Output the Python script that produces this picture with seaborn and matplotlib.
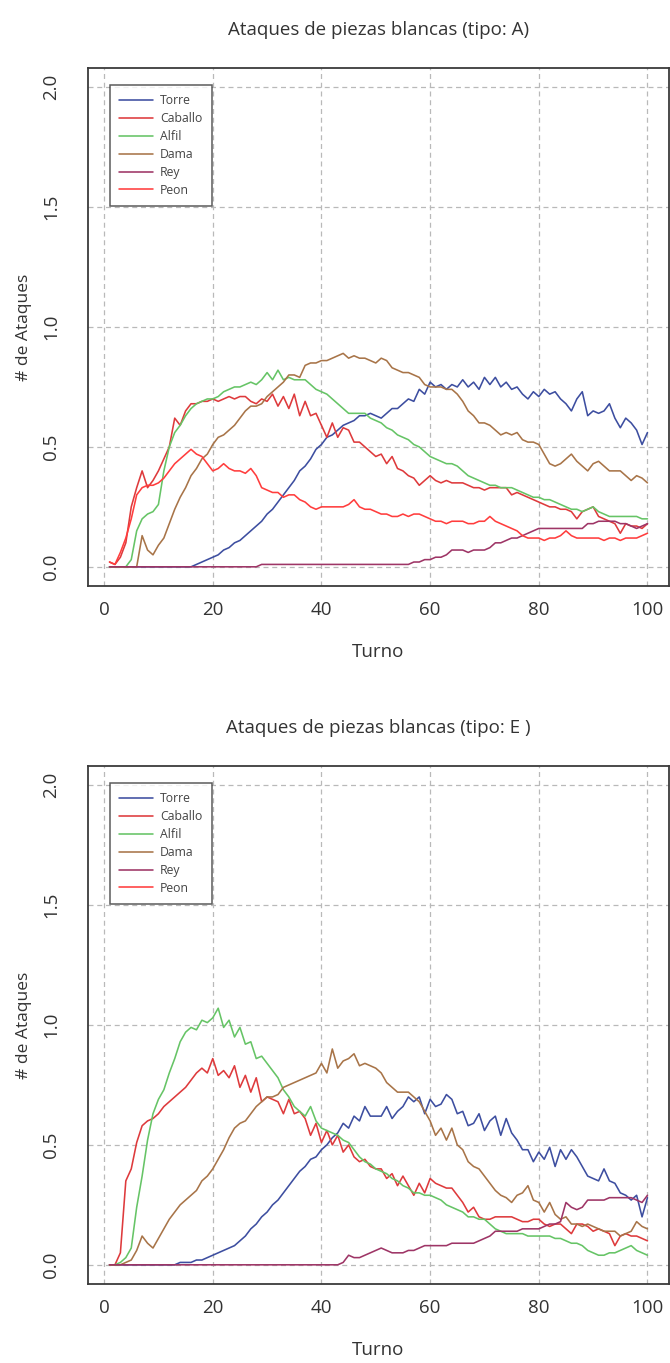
import numpy as np
import pandas as pd
import matplotlib
matplotlib.use("Agg")
import matplotlib.pyplot as plt
from matplotlib.lines import Line2D
import seaborn as sns

turnos = list(range(1, 101))
piezas = ["Torre", "Caballo", "Alfil", "Dama", "Rey", "Peon"]
colores = ["#3d4ea0", "#de3a3c", "#66c466", "#a87448", "#9e3566", "#ff3d3d"]

# tipo A
torre_a = [0, 0, 0, 0, 0, 0, 0, 0, 0, 0,
           0, 0, 0, 0, 0, 0, 0.01, 0.02, 0.03, 0.04,
           0.05, 0.07, 0.08, 0.10, 0.11, 0.13, 0.15, 0.17, 0.19, 0.22,
           0.24, 0.27, 0.30, 0.33, 0.36, 0.40, 0.42, 0.45, 0.49, 0.51,
           0.54, 0.55, 0.57, 0.59, 0.60, 0.61, 0.63, 0.63, 0.64, 0.63,
           0.62, 0.64, 0.66, 0.66, 0.68, 0.70, 0.69, 0.74, 0.72, 0.77,
           0.75, 0.76, 0.74, 0.76, 0.75, 0.78, 0.75, 0.77, 0.74, 0.79,
           0.76, 0.79, 0.75, 0.77, 0.74, 0.75, 0.72, 0.70, 0.73, 0.71,
           0.74, 0.72, 0.73, 0.70, 0.68, 0.65, 0.70, 0.73, 0.63, 0.65,
           0.64, 0.65, 0.68, 0.62, 0.58, 0.62, 0.60, 0.57, 0.51, 0.56]
caballo_a = [0.02, 0.01, 0.04, 0.10, 0.25, 0.33, 0.40, 0.33, 0.36, 0.40,
             0.45, 0.50, 0.62, 0.59, 0.65, 0.68, 0.68, 0.69, 0.69, 0.70,
             0.69, 0.70, 0.71, 0.70, 0.71, 0.71, 0.69, 0.68, 0.70, 0.69,
             0.72, 0.67, 0.71, 0.66, 0.72, 0.63, 0.69, 0.63, 0.64, 0.59,
             0.54, 0.60, 0.54, 0.58, 0.57, 0.52, 0.52, 0.50, 0.48, 0.46,
             0.47, 0.43, 0.46, 0.41, 0.40, 0.38, 0.37, 0.34, 0.36, 0.38,
             0.36, 0.35, 0.36, 0.35, 0.35, 0.35, 0.34, 0.33, 0.33, 0.32,
             0.33, 0.33, 0.33, 0.33, 0.30, 0.31, 0.30, 0.29, 0.28, 0.27,
             0.26, 0.25, 0.25, 0.24, 0.24, 0.23, 0.20, 0.23, 0.24, 0.25,
             0.21, 0.20, 0.19, 0.18, 0.14, 0.18, 0.17, 0.17, 0.16, 0.18]
alfil_a = [0, 0, 0, 0, 0.03, 0.15, 0.20, 0.22, 0.23, 0.26,
           0.40, 0.50, 0.56, 0.59, 0.63, 0.66, 0.68, 0.69, 0.70, 0.70,
           0.71, 0.73, 0.74, 0.75, 0.75, 0.76, 0.77, 0.76, 0.78, 0.81,
           0.78, 0.82, 0.78, 0.79, 0.78, 0.78, 0.78, 0.76, 0.74, 0.73,
           0.72, 0.70, 0.68, 0.66, 0.64, 0.64, 0.64, 0.64, 0.62, 0.61,
           0.60, 0.58, 0.57, 0.55, 0.54, 0.53, 0.51, 0.50, 0.48, 0.46,
           0.45, 0.44, 0.43, 0.43, 0.42, 0.40, 0.38, 0.37, 0.36, 0.35,
           0.34, 0.34, 0.33, 0.33, 0.33, 0.32, 0.31, 0.30, 0.29, 0.29,
           0.28, 0.28, 0.27, 0.26, 0.25, 0.24, 0.24, 0.23, 0.24, 0.25,
           0.23, 0.22, 0.21, 0.21, 0.21, 0.21, 0.21, 0.21, 0.20, 0.20]
dama_a = [0, 0, 0, 0, 0, 0, 0.13, 0.07, 0.05, 0.09,
          0.12, 0.18, 0.24, 0.29, 0.33, 0.38, 0.41, 0.45, 0.47, 0.51,
          0.54, 0.55, 0.57, 0.59, 0.62, 0.65, 0.67, 0.67, 0.68, 0.71,
          0.73, 0.75, 0.77, 0.80, 0.80, 0.79, 0.84, 0.85, 0.85, 0.86,
          0.86, 0.87, 0.88, 0.89, 0.87, 0.88, 0.87, 0.87, 0.86, 0.85,
          0.87, 0.86, 0.83, 0.82, 0.81, 0.81, 0.80, 0.79, 0.76, 0.75,
          0.75, 0.75, 0.74, 0.74, 0.72, 0.69, 0.65, 0.63, 0.60, 0.60,
          0.59, 0.57, 0.55, 0.56, 0.55, 0.56, 0.53, 0.52, 0.52, 0.51,
          0.47, 0.43, 0.42, 0.43, 0.45, 0.47, 0.44, 0.42, 0.40, 0.43,
          0.44, 0.42, 0.40, 0.40, 0.40, 0.38, 0.36, 0.38, 0.37, 0.35]
rey_a = [0, 0, 0, 0, 0, 0, 0, 0, 0, 0,
         0, 0, 0, 0, 0, 0, 0, 0, 0, 0,
         0, 0, 0, 0, 0, 0, 0, 0, 0.01, 0.01,
         0.01, 0.01, 0.01, 0.01, 0.01, 0.01, 0.01, 0.01, 0.01, 0.01,
         0.01, 0.01, 0.01, 0.01, 0.01, 0.01, 0.01, 0.01, 0.01, 0.01,
         0.01, 0.01, 0.01, 0.01, 0.01, 0.01, 0.02, 0.02, 0.03, 0.03,
         0.04, 0.04, 0.05, 0.07, 0.07, 0.07, 0.06, 0.07, 0.07, 0.07,
         0.08, 0.10, 0.10, 0.11, 0.12, 0.12, 0.13, 0.14, 0.15, 0.16,
         0.16, 0.16, 0.16, 0.16, 0.16, 0.16, 0.16, 0.16, 0.18, 0.18,
         0.19, 0.19, 0.19, 0.19, 0.18, 0.18, 0.17, 0.16, 0.17, 0.18]
peon_a = [0.02, 0.01, 0.06, 0.12, 0.20, 0.30, 0.33, 0.34, 0.34, 0.35,
          0.37, 0.40, 0.43, 0.45, 0.47, 0.49, 0.47, 0.46, 0.43, 0.40,
          0.41, 0.43, 0.41, 0.40, 0.40, 0.39, 0.41, 0.38, 0.33, 0.32,
          0.31, 0.31, 0.29, 0.30, 0.30, 0.28, 0.27, 0.25, 0.24, 0.25,
          0.25, 0.25, 0.25, 0.25, 0.26, 0.28, 0.25, 0.24, 0.24, 0.23,
          0.22, 0.22, 0.21, 0.21, 0.22, 0.21, 0.22, 0.22, 0.21, 0.20,
          0.19, 0.19, 0.18, 0.19, 0.19, 0.19, 0.18, 0.18, 0.19, 0.19,
          0.21, 0.19, 0.18, 0.17, 0.16, 0.15, 0.13, 0.12, 0.12, 0.12,
          0.11, 0.12, 0.12, 0.13, 0.15, 0.13, 0.12, 0.12, 0.12, 0.12,
          0.12, 0.11, 0.12, 0.12, 0.11, 0.12, 0.12, 0.12, 0.13, 0.14]

# tipo E
torre_e = [0, 0, 0, 0, 0, 0, 0, 0, 0, 0,
           0, 0, 0, 0.01, 0.01, 0.01, 0.02, 0.02, 0.03, 0.04,
           0.05, 0.06, 0.07, 0.08, 0.10, 0.12, 0.15, 0.17, 0.20, 0.22,
           0.25, 0.27, 0.30, 0.33, 0.36, 0.39, 0.41, 0.44, 0.45, 0.48,
           0.50, 0.53, 0.55, 0.59, 0.57, 0.62, 0.60, 0.66, 0.62, 0.62,
           0.62, 0.66, 0.61, 0.64, 0.66, 0.70, 0.68, 0.70, 0.63, 0.69,
           0.66, 0.67, 0.71, 0.69, 0.63, 0.64, 0.58, 0.59, 0.63, 0.56,
           0.60, 0.62, 0.54, 0.61, 0.55, 0.52, 0.48, 0.48, 0.43, 0.47,
           0.44, 0.49, 0.41, 0.48, 0.44, 0.48, 0.45, 0.41, 0.37, 0.36,
           0.35, 0.40, 0.35, 0.34, 0.30, 0.29, 0.27, 0.29, 0.20, 0.28]
caballo_e = [0, 0, 0.05, 0.35, 0.40, 0.51, 0.58, 0.60, 0.61, 0.63,
             0.66, 0.68, 0.70, 0.72, 0.74, 0.77, 0.80, 0.82, 0.80, 0.86,
             0.79, 0.81, 0.78, 0.83, 0.74, 0.79, 0.72, 0.78, 0.68, 0.70,
             0.69, 0.68, 0.63, 0.69, 0.63, 0.64, 0.61, 0.54, 0.59, 0.51,
             0.56, 0.50, 0.54, 0.47, 0.50, 0.45, 0.43, 0.44, 0.41, 0.40,
             0.40, 0.36, 0.38, 0.33, 0.37, 0.33, 0.29, 0.34, 0.30, 0.36,
             0.34, 0.33, 0.32, 0.32, 0.29, 0.26, 0.22, 0.24, 0.20, 0.19,
             0.19, 0.20, 0.20, 0.20, 0.20, 0.19, 0.18, 0.18, 0.19, 0.19,
             0.17, 0.16, 0.17, 0.17, 0.15, 0.13, 0.17, 0.17, 0.16, 0.14,
             0.15, 0.14, 0.13, 0.08, 0.12, 0.13, 0.12, 0.12, 0.11, 0.10]
alfil_e = [0, 0, 0.01, 0.03, 0.07, 0.24, 0.37, 0.52, 0.63, 0.69,
           0.73, 0.80, 0.86, 0.93, 0.97, 0.99, 0.98, 1.02, 1.01, 1.03,
           1.07, 0.99, 1.02, 0.95, 0.99, 0.92, 0.93, 0.86, 0.87, 0.84,
           0.81, 0.78, 0.73, 0.70, 0.66, 0.64, 0.62, 0.66, 0.60, 0.57,
           0.56, 0.55, 0.54, 0.52, 0.51, 0.48, 0.45, 0.43, 0.42, 0.40,
           0.39, 0.38, 0.36, 0.35, 0.33, 0.32, 0.30, 0.30, 0.29, 0.29,
           0.28, 0.27, 0.25, 0.24, 0.23, 0.22, 0.20, 0.20, 0.19, 0.19,
           0.17, 0.15, 0.14, 0.13, 0.13, 0.13, 0.13, 0.12, 0.12, 0.12,
           0.12, 0.12, 0.11, 0.11, 0.10, 0.09, 0.09, 0.08, 0.06, 0.05,
           0.04, 0.04, 0.05, 0.05, 0.06, 0.07, 0.08, 0.06, 0.05, 0.04]
dama_e = [0, 0, 0, 0.01, 0.02, 0.06, 0.12, 0.09, 0.07, 0.11,
          0.15, 0.19, 0.22, 0.25, 0.27, 0.29, 0.31, 0.35, 0.37, 0.40,
          0.44, 0.48, 0.53, 0.57, 0.59, 0.60, 0.63, 0.66, 0.68, 0.70,
          0.70, 0.71, 0.74, 0.75, 0.76, 0.77, 0.78, 0.79, 0.80, 0.84,
          0.80, 0.90, 0.82, 0.85, 0.86, 0.88, 0.83, 0.84, 0.83, 0.82,
          0.80, 0.76, 0.74, 0.72, 0.72, 0.72, 0.70, 0.68, 0.64, 0.60,
          0.54, 0.57, 0.52, 0.57, 0.50, 0.48, 0.43, 0.41, 0.40, 0.37,
          0.34, 0.31, 0.29, 0.28, 0.26, 0.29, 0.30, 0.33, 0.27, 0.26,
          0.22, 0.26, 0.21, 0.19, 0.20, 0.17, 0.17, 0.16, 0.17, 0.16,
          0.15, 0.14, 0.14, 0.14, 0.12, 0.13, 0.14, 0.18, 0.16, 0.15]
rey_e = [0, 0, 0, 0, 0, 0, 0, 0, 0, 0,
         0, 0, 0, 0, 0, 0, 0, 0, 0, 0,
         0, 0, 0, 0, 0, 0, 0, 0, 0, 0,
         0, 0, 0, 0, 0, 0, 0, 0, 0, 0,
         0, 0, 0, 0.01, 0.04, 0.03, 0.03, 0.04, 0.05, 0.06,
         0.07, 0.06, 0.05, 0.05, 0.05, 0.06, 0.06, 0.07, 0.08, 0.08,
         0.08, 0.08, 0.08, 0.09, 0.09, 0.09, 0.09, 0.09, 0.10, 0.11,
         0.12, 0.14, 0.14, 0.14, 0.14, 0.14, 0.15, 0.15, 0.15, 0.15,
         0.16, 0.17, 0.17, 0.18, 0.26, 0.24, 0.23, 0.24, 0.27, 0.27,
         0.27, 0.27, 0.28, 0.28, 0.28, 0.28, 0.28, 0.27, 0.26, 0.29]
# en el tipo E no se ve ninguna linea de Peon

series_a = {"Torre": torre_a, "Caballo": caballo_a, "Alfil": alfil_a,
            "Dama": dama_a, "Rey": rey_a, "Peon": peon_a}
series_e = {"Torre": torre_e, "Caballo": caballo_e, "Alfil": alfil_e,
            "Dama": dama_e, "Rey": rey_e}

sns.set_style("white")
plt.rcParams["font.family"] = ["Open Sans", "DejaVu Sans"]
paleta = dict(zip(piezas, colores))

fig = plt.figure(figsize=(6.7, 13.63), dpi=100)
W, H = 670, 1363
ax_a = fig.add_axes([88 / W, 1 - 586 / H, 581 / W, 518 / H])
ax_e = fig.add_axes([88 / W, 1 - 1284 / H, 581 / W, 518 / H])


def dibujar(ax, series, titulo):
    filas = []
    for nombre, valores in series.items():
        for t, v in zip(turnos, valores):
            filas.append((t, v, nombre))
    df = pd.DataFrame(filas, columns=["Turno", "Ataques", "Pieza"])
    sns.lineplot(data=df, x="Turno", y="Ataques", hue="Pieza",
                 hue_order=list(series.keys()), palette=paleta,
                 estimator=None, lw=1.15, legend=False, ax=ax)
    ax.set_xlim(-2.96, 103.96)
    ax.set_ylim(-0.08, 2.08)
    ax.set_xticks([0, 20, 40, 60, 80, 100])
    ax.set_yticks([0, 0.5, 1.0, 1.5, 2.0])
    ax.set_yticklabels(["0.0", "0.5", "1.0", "1.5", "2.0"], rotation=90, va="center")
    ax.grid(True, color="#b9b9b9", linestyle=(0, (4, 3)), lw=0.9)
    ax.set_axisbelow(True)
    for s in ax.spines.values():
        s.set_color("#3a3a3a")
        s.set_linewidth(1.3)
    ax.tick_params(axis="both", length=0, labelsize=13.5, colors="#333333")
    ax.tick_params(axis="x", pad=11)
    ax.tick_params(axis="y", pad=20)
    ax.set_xlabel("Turno", fontsize=13.5, color="#333333", labelpad=17)
    ax.set_ylabel("# de Ataques", fontsize=12.5, color="#333333", labelpad=7)
    ax.set_title(titulo, fontsize=13.5, color="#333333", pad=24)
    handles = [Line2D([], [], color=c, lw=1.15) for c in colores]
    leg = ax.legend(handles, piezas, loc="upper left", bbox_to_anchor=(0.038, 0.967),
                    frameon=True, fancybox=False, edgecolor="#333333", fontsize=8.8,
                    handlelength=2.8, handletextpad=0.55, labelspacing=0.4,
                    borderpad=0.75, borderaxespad=0)
    leg.get_frame().set_linewidth(1.1)
    for txt in leg.get_texts():
        txt.set_color("#444444")


dibujar(ax_a, series_a, "Ataques de piezas blancas (tipo: A)")
dibujar(ax_e, series_e, "Ataques de piezas blancas (tipo: E )")

fig.savefig("out.png", dpi=100)
